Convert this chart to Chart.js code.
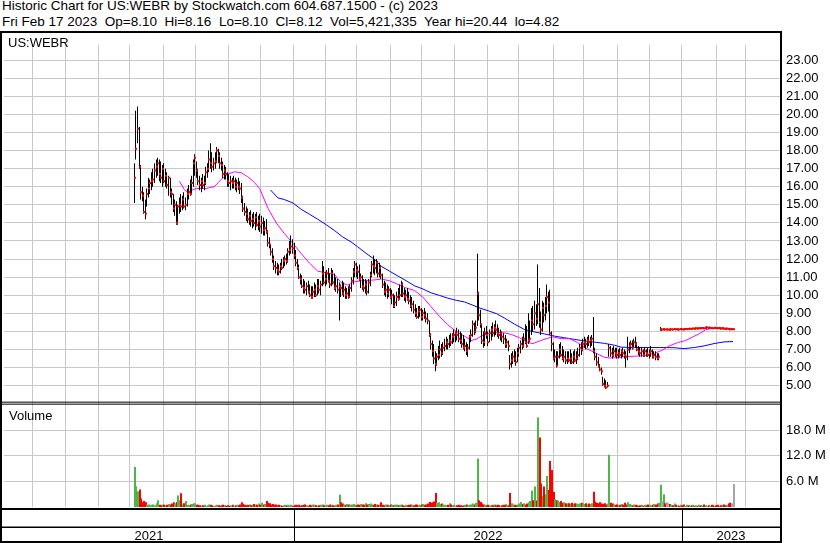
<!DOCTYPE html>
<html>
<head>
<meta charset="utf-8">
<script src="https://cdn.jsdelivr.net/npm/chart.js@4"></script>
<style>
  body { margin: 0; background: #fff; width: 830px; height: 543px; overflow: hidden; position: relative;
         font-family: "Liberation Sans", Arial, sans-serif; }
  .hdr { position: absolute; left: 2px; font-size: 13.5px; line-height: 16px; white-space: pre; color: #000; }
  #wrap { position: absolute; left: 0; top: 31px; width: 830px; height: 512px; }
</style>
</head>
<body>
<div class="hdr" style="top:-1.7px">Historic Chart for US:WEBR by Stockwatch.com 604.687.1500 - (c) 2023</div>
<div class="hdr" style="top:14px">Fri Feb 17 2023  Op=8.10  Hi=8.16  Lo=8.10  Cl=8.12  Vol=5,421,335  Year hi=20.44  lo=4.82</div>
<div id="wrap"><canvas id="chart" width="830" height="512"></canvas></div>
<script>
// one bar per trading day, day 0 = 5 Aug 2021
const hi = [
  17.3,20.2,20.44,19.3,17.2,16.0,15.7,15.3,15.9,16.5,
  16.4,16.8,17.0,17.3,17.5,17.6,17.5,17.4,17.2,17.3,
  17.0,16.8,16.6,16.5,15.9,15.6,15.3,15.2,15.0,15.4,
  15.6,15.5,15.7,15.4,15.9,16.1,16.4,16.6,17.5,17.8,
  17.4,17.0,16.6,16.5,16.7,16.6,17.1,17.3,18.0,18.4,
  17.9,17.6,17.9,18.2,18.1,17.9,17.6,17.4,17.2,17.1,
  16.8,16.7,16.6,16.5,16.6,16.5,16.4,16.5,16.3,16.2,
  15.5,15.1,14.9,14.8,14.6,14.7,14.5,14.6,14.5,14.6,
  14.4,14.5,14.4,14.3,14.1,14.2,13.6,13.2,12.8,12.6,
  12.2,11.9,11.8,11.7,11.8,12.0,12.1,12.2,12.3,12.6,
  13.0,13.3,13.1,12.9,12.5,12.0,11.7,11.2,11.1,10.9,
  10.8,10.7,10.8,10.6,10.5,10.5,10.7,10.6,10.9,10.9,
  10.8,11.9,11.6,11.3,11.4,11.5,11.2,11.5,11.4,11.2,
  11.0,10.9,10.7,10.6,10.8,10.7,10.5,10.4,10.5,10.6,
  11.0,11.5,11.9,11.8,11.6,11.7,11.2,11.1,10.9,10.9,
  10.8,10.9,11.3,11.9,12.2,12.0,12.0,11.9,11.8,11.6,
  11.2,10.8,10.7,10.6,10.5,10.4,10.3,10.1,10.0,10.2,
  10.4,10.6,10.8,10.7,10.4,10.3,10.4,10.2,10.0,9.9,
  9.7,9.5,9.3,9.4,9.4,9.3,9.2,9.3,9.1,9.0,
  8.6,7.9,7.5,7.3,6.9,6.8,7.2,7.5,7.3,7.4,
  7.6,7.7,7.6,7.8,7.9,7.9,8.1,8.0,8.2,8.1,
  8.0,7.9,7.8,7.6,7.4,7.3,7.8,8.1,8.6,8.5,
  8.6,12.3,10.2,9.2,8.4,8.0,8.2,8.3,8.0,8.1,
  8.3,8.5,8.4,8.6,8.4,8.2,8.1,8.0,7.9,7.8,
  7.6,7.5,6.7,6.8,6.9,7.0,6.9,7.1,7.3,7.5,
  7.7,7.9,8.4,8.3,9.0,8.6,9.3,9.4,9.7,9.5,
  11.7,10.4,9.1,9.7,9.6,9.9,10.6,10.2,10.3,8.0,
  7.4,7.0,6.9,6.9,7.3,7.4,7.2,7.0,6.9,6.9,
  6.9,7.0,6.8,6.9,7.0,6.9,7.1,7.3,7.4,7.6,
  7.7,7.6,7.7,7.8,7.7,7.8,8.8,7.1,6.8,6.6,
  6.2,6.0,5.5,5.4,5.3,5.2,7.3,7.2,7.1,7.2,
  7.1,7.1,7.0,7.1,7.0,7.1,7.0,6.9,7.7,7.4,
  7.5,7.5,7.6,7.7,7.4,7.2,7.1,7.1,7.0,7.1,
  7.0,7.1,7.0,7.2,7.0,6.9,6.9,6.8,6.8,
  8.24,8.16,8.17,8.16,8.15,8.16,8.15,8.17,8.16,8.18,
  8.17,8.16,8.16,8.18,8.17,8.16,8.18,8.19,8.18,8.20,
  8.19,8.21,8.20,8.22,8.21,8.23,8.22,8.24,8.23,8.26,
  8.28,8.25,8.26,8.24,8.23,8.25,8.24,8.22,8.23,8.21,
  8.22,8.20,8.19,8.20,8.18,8.17,8.17,8.16
];
const lo = [
  15.1,17.5,18.4,17.0,15.3,15.2,14.5,14.2,14.9,15.4,
  15.6,15.8,16.0,16.2,16.5,16.6,16.3,16.2,16.0,16.2,
  16.0,15.9,15.5,15.4,15.0,14.6,14.4,13.9,13.9,14.5,
  14.6,14.7,14.8,14.7,14.9,15.3,15.5,15.6,16.0,16.6,
  16.5,16.1,15.8,15.7,15.9,15.8,16.1,16.5,16.8,17.0,
  16.8,16.9,17.0,17.3,17.3,17.0,16.9,16.5,16.4,16.4,
  16.0,16.0,15.8,15.9,15.9,15.8,15.7,15.8,15.6,15.1,
  14.6,14.4,14.1,14.0,13.9,13.8,13.7,13.8,13.6,13.8,
  13.6,13.5,13.4,13.3,13.3,13.4,12.7,12.6,12.2,11.8,
  11.4,11.2,11.1,11.1,11.2,11.4,11.5,11.6,11.7,11.8,
  12.2,12.3,12.3,12.0,11.6,11.4,10.9,10.6,10.4,10.1,
  10.1,10.0,10.1,9.9,9.8,9.8,9.9,9.9,10.0,10.1,
  10.0,10.5,10.6,10.5,10.6,10.7,10.4,10.5,10.6,10.3,
  10.2,10.1,8.6,9.9,10.0,9.9,9.8,9.8,9.8,9.9,
  10.2,10.6,11.0,11.0,10.9,10.8,10.4,10.3,10.2,10.1,
  10.0,10.1,10.5,11.0,11.2,11.1,11.2,11.0,11.0,10.9,
  10.4,10.0,9.9,9.8,9.9,9.8,9.5,9.3,9.3,9.4,
  9.7,9.8,9.9,9.9,9.7,9.6,9.7,9.5,9.3,9.1,
  9.0,8.8,8.7,8.7,8.8,8.6,8.6,8.7,8.5,8.4,
  7.7,7.0,6.6,6.2,5.8,6.1,6.4,6.5,6.6,6.7,
  6.9,7.0,7.0,7.1,7.2,7.3,7.4,7.4,7.5,7.4,
  7.3,7.1,7.0,6.9,6.7,6.6,7.0,7.4,7.7,7.8,
  7.9,8.3,8.6,8.2,7.3,7.1,7.2,7.6,7.2,7.4,
  7.5,7.7,7.7,7.8,7.7,7.6,7.5,7.4,7.3,7.1,
  7.1,6.9,5.9,6.0,6.2,6.3,6.1,6.3,6.6,6.8,
  7.0,7.1,7.3,7.1,7.3,7.4,7.8,8.0,8.1,8.3,
  8.4,8.2,7.8,8.0,8.5,8.6,9.0,9.1,7.8,6.9,
  6.4,6.3,6.0,6.1,6.5,6.6,6.4,6.3,6.2,6.2,
  6.3,6.2,6.2,6.2,6.3,6.2,6.4,6.6,6.7,6.9,
  7.1,7.0,7.1,7.2,7.1,7.2,6.8,6.4,6.1,6.0,
  5.8,5.6,5.0,4.9,4.82,4.9,6.6,6.6,6.5,6.6,
  6.6,6.5,6.5,6.6,6.5,6.6,6.5,6.0,6.4,6.8,
  7.0,7.0,7.1,7.1,6.9,6.7,6.6,6.6,6.6,6.6,
  6.6,6.6,6.5,6.6,6.5,6.5,6.4,6.4,6.4,
  8.04,8.06,8.07,8.06,8.07,8.06,8.05,8.07,8.06,8.08,
  8.07,8.07,8.06,8.08,8.07,8.06,8.08,8.09,8.08,8.10,
  8.09,8.11,8.10,8.12,8.11,8.13,8.12,8.14,8.13,8.15,
  8.16,8.15,8.16,8.14,8.13,8.15,8.14,8.12,8.13,8.11,
  8.12,8.10,8.09,8.10,8.08,8.07,8.08,8.10
];
const cl = [
  16.5,18.1,19.2,17.1,15.7,15.5,14.6,14.5,15.6,15.9,
  16.2,16.3,16.4,16.9,17.1,17.3,16.7,16.5,17.0,16.3,
  16.6,16.1,16.5,15.7,15.6,14.8,15.0,14.0,14.9,15.0,
  14.9,15.3,14.9,15.0,15.6,15.7,15.6,16.2,17.3,17.6,
  16.9,16.3,16.1,16.3,16.1,16.2,16.8,17.0,17.5,17.3,
  17.1,17.3,17.4,18.0,17.7,17.3,17.2,16.7,16.9,16.7,
  16.3,16.2,16.3,16.2,16.3,16.0,16.2,16.0,15.9,15.4,
  14.8,14.6,14.5,14.2,14.4,14.1,14.2,14.0,14.3,13.9,
  14.1,13.8,14.0,13.6,13.7,13.5,12.9,12.8,12.4,12.0,
  11.6,11.5,11.4,11.3,11.6,11.5,11.9,12.0,11.9,12.4,
  12.5,12.7,12.6,12.2,11.8,11.5,11.0,10.9,10.5,10.4,
  10.3,10.5,10.2,10.0,9.9,10.2,10.3,10.0,10.5,10.3,
  10.6,11.2,10.7,10.9,11.2,10.8,10.6,11.2,10.7,10.4,
  10.5,10.3,10.5,10.4,10.1,10.3,10.0,10.1,9.9,10.4,
  10.8,11.3,11.7,11.4,11.3,10.9,11.0,10.5,10.4,10.6,
  10.2,10.7,11.1,11.7,11.6,11.5,11.8,11.2,11.5,11.1,
  10.6,10.2,10.3,10.1,10.3,9.9,10.0,9.4,9.6,9.9,
  9.8,10.0,10.6,10.1,9.9,10.0,9.8,9.7,9.4,9.5,
  9.2,9.0,8.8,9.1,9.2,8.8,9.0,8.9,8.7,8.6,
  7.8,7.3,6.9,6.5,6.2,6.6,6.7,7.0,6.8,7.1,
  7.2,7.4,7.3,7.5,7.4,7.7,7.8,7.9,7.8,7.6,
  7.5,7.3,7.1,7.2,6.9,7.1,7.7,7.8,8.4,8.0,
  8.2,10.1,8.9,8.4,7.5,7.4,7.9,7.8,7.4,7.9,
  8.1,7.9,8.2,8.1,7.9,7.8,7.9,7.7,7.6,7.3,
  7.4,7.2,6.2,6.4,6.6,6.5,6.3,6.8,7.1,7.3,
  7.2,7.6,7.4,7.2,7.5,7.6,8.6,8.4,9.0,8.7,
  9.5,8.5,8.1,9.3,8.9,9.4,9.9,9.6,7.9,7.3,
  6.5,6.6,6.1,6.6,7.0,6.7,6.5,6.6,6.4,6.5,
  6.4,6.5,6.3,6.6,6.4,6.5,6.7,7.1,7.0,7.3,
  7.4,7.3,7.5,7.4,7.5,7.6,6.9,6.6,6.3,6.1,
  5.9,5.8,5.1,5.0,4.9,5.0,7.1,6.8,6.7,6.9,
  6.8,6.7,6.8,6.7,6.9,6.8,6.7,6.6,7.0,7.2,
  7.3,7.1,7.4,7.3,7.0,6.9,6.8,6.9,6.7,6.9,
  6.8,6.7,6.8,6.9,6.6,6.7,6.6,6.5,6.6,
  8.10,8.10,8.12,8.11,8.11,8.11,8.10,8.12,8.11,8.13,
  8.12,8.12,8.11,8.13,8.12,8.11,8.13,8.14,8.13,8.15,
  8.14,8.16,8.15,8.17,8.16,8.18,8.17,8.19,8.18,8.20,
  8.22,8.20,8.21,8.19,8.18,8.20,8.19,8.17,8.18,8.16,
  8.17,8.15,8.14,8.15,8.13,8.12,8.12,8.12
];
// volume in millions of shares
const vol = [
  9.4,4.9,3.7,4.1,2.0,1.1,1.4,1.1,0.5,0.6,
  0.4,0.5,0.6,0.4,0.9,1.6,0.5,0.4,0.6,0.5,
  0.4,0.5,0.7,0.6,0.8,1.1,0.9,1.2,2.7,1.6,
  3.2,0.6,0.9,1.4,0.5,0.4,0.6,0.7,0.9,0.8,
  0.5,0.5,0.4,0.3,0.4,0.5,0.3,0.4,0.6,0.5,
  0.4,0.3,0.4,0.5,0.4,0.3,0.4,0.5,0.4,0.3,
  0.4,0.3,0.4,0.5,0.3,0.4,0.5,0.4,0.6,1.1,
  0.7,0.5,0.4,0.5,0.6,0.4,0.5,0.7,0.6,0.5,
  0.8,0.5,1.0,0.6,0.7,1.4,1.0,0.9,0.6,0.7,
  0.5,0.6,0.4,0.5,0.4,0.3,0.4,0.5,0.4,0.5,
  0.4,0.5,0.3,0.4,0.5,0.4,0.5,0.3,0.4,0.5,
  0.6,0.4,0.3,0.5,0.4,0.6,0.5,0.4,0.3,0.4,
  0.5,0.6,0.4,0.3,0.5,0.4,0.6,0.5,0.4,0.3,
  0.5,0.6,2.9,1.1,0.8,0.6,0.5,0.7,0.6,0.5,
  0.6,0.7,0.5,0.4,0.6,0.5,0.7,0.6,0.5,0.9,
  0.6,0.7,0.8,0.6,0.5,0.7,0.6,0.5,0.6,1.1,
  0.5,0.4,0.6,0.5,0.4,0.6,0.5,0.4,0.5,0.6,
  0.4,0.5,0.6,0.4,0.3,0.5,0.4,0.5,0.6,0.5,
  0.4,0.6,0.5,0.4,0.5,0.6,0.7,0.5,0.6,0.8,
  1.2,1.0,1.1,1.3,3.3,1.0,1.1,0.7,0.8,0.6,
  0.5,0.4,0.5,0.9,0.6,0.4,0.5,0.3,0.4,0.5,
  0.4,0.3,0.4,0.5,0.6,0.4,0.5,0.6,0.8,0.6,
  1.0,11.4,1.6,1.2,0.8,0.6,0.5,0.4,0.5,0.4,
  0.5,0.4,0.6,0.4,0.5,0.4,0.3,0.4,0.5,0.6,
  0.5,0.4,3.3,0.9,0.6,0.5,0.4,0.6,0.8,1.2,
  0.7,0.9,0.6,0.8,1.1,1.4,3.8,1.6,4.8,1.5,
  21.0,16.3,5.5,2.6,4.8,3.0,7.3,4.0,10.8,8.7,
  3.5,1.8,1.6,1.5,1.2,1.4,1.0,1.1,0.9,0.8,
  0.9,0.8,1.0,0.7,0.9,0.8,0.7,0.9,1.0,0.8,
  0.7,0.9,0.6,0.8,0.7,0.9,3.6,1.3,1.0,0.9,
  1.1,0.8,0.7,0.9,0.6,0.8,12.3,1.0,0.8,0.6,
  0.5,0.6,0.4,0.5,0.7,0.5,1.0,0.6,1.1,0.7,
  0.5,0.4,0.6,0.5,0.4,0.3,0.4,0.5,0.3,0.5,
  0.4,0.6,0.5,0.4,0.5,0.7,0.6,0.8,1.0,5.2,
  1.4,3.0,0.9,1.1,0.9,0.7,0.5,0.4,0.8,0.5,
  0.4,0.3,0.5,0.4,0.6,0.3,0.5,0.4,0.3,0.4,
  0.5,0.3,0.4,0.3,0.5,0.4,0.3,0.6,0.4,0.3,
  0.4,0.3,0.5,0.4,0.3,0.4,0.5,0.3,0.4,0.5,
  0.6,0.4,0.5,0.8,1.0,0.9,5.42
];
// moving averages: [trading day, value]
const fastDays = [29.1,32.3,34.5,37.7,39.9,46.3,48.4,51.6,55.9,60.2,64.5,68.8,73.1,76.7,80.8,86.2,91.5,96.8,102.3,107.6,
  112.9,118.3,123.7,129,133.3,137.6,141.9,146.2,155.2,159.2,164.6,170,175.3,180.7,186,191.4,196.8,202.1,207.5,212.9,
  217.1,220.3,223.5,227.8,233.6,238.8,243.1,248.4,253.8,257,261.3,265.6,269.8,275.2,280.6,285.9,290.2,294.5,298.8,303.1,
  306.3,312.1,316,322.4,328.8,335.3,340.6,344.9,350.2,355.6,359.9,364.2,368.5,373.8,380.2,386];
const fastVals = [16.3,15.83,15.7,15.83,15.9,15.9,15.95,16.0,16.4,16.7,16.82,16.78,16.55,16.3,15.9,14.8,14.0,13.4,12.86,12.3,
  11.78,11.33,11.24,11.15,10.7,10.56,10.74,10.8,10.85,10.9,10.8,10.6,10.4,10.26,9.9,9.36,8.82,8.37,8.0,7.74,
  7.5,7.56,7.74,7.87,7.95,7.92,7.83,7.65,7.38,7.33,7.47,7.6,7.7,7.6,7.6,7.38,7.11,6.93,6.75,6.57,
  6.53,6.55,6.61,6.63,6.66,6.79,6.97,7.2,7.38,7.5,7.69,7.87,8.1,8.19,8.19,8.16];
const slowDays = [87.8,92.6,96.8,102.3,107.6,112.9,118.3,123.7,129,134.4,139.7,144,149.4,155.2,159.2,164.6,170,175.3,180.7,186,
  191.4,196.8,202.1,207.5,212.9,218.2,223.5,228.9,233.6,238.8,245.2,251.7,258.1,264.5,270.9,277.4,283.8,290.2,296.6,303.1,
  309.5,313.8,322.4,330.9,339.5,348.1,354.5,361,367.4,373.8,380.2,386];
const slowVals = [15.82,15.38,15.29,15.1,14.75,14.48,14.2,13.9,13.58,13.22,12.95,12.68,12.32,11.96,11.6,11.33,11.06,10.8,10.52,10.35,
  10.13,9.99,9.84,9.72,9.63,9.45,9.27,9.12,8.98,8.73,8.4,8.1,7.97,7.86,7.74,7.65,7.56,7.47,7.41,7.34,
  7.24,7.13,7.11,7.11,7.11,7.1,7.05,7.11,7.2,7.33,7.42,7.44];

// month grid lines and year row, in trading days
const monthLines = [-65.6,-44.6,-23.2,-3.2,18.6,39.6,60.5,81.4,102.9,123,143,165,185.4,206.2,227.7,247.6,270.1,289.8,311.3,332.2,353.1,375.2,393.8];
const years = ['2021', '2022', '2023'];
const yearBreaks = [102.9, 353.1];
const priceTicks = [5,6,7,8,9,10,11,12,13,14,15,16,17,18,19,20,21,22,23];
const volTicks = [6, 12, 18];

const days = cl.map((c, i) => i);
const volColors = days.map(i => {
  if (i === 0 || cl[i] > cl[i - 1]) return '#4cb748';
  if (cl[i] < cl[i - 1]) return '#ff0000';
  return '#a6a6a6';
});

Chart.defaults.font.family = '"Liberation Sans", Arial, sans-serif';
Chart.defaults.color = '#000';

// snap the thin bars to whole pixels so they stay crisp
const crisp = {
  id: 'crisp',
  afterDatasetsUpdate(chart) {
    chart.getDatasetMeta(0).data.forEach(el => { el.x = Math.floor(el.x) + 1; });
    chart.getDatasetMeta(1).data.forEach(el => { el.x = Math.floor(el.x) + 0.5; el.width = 1; });
    chart.getDatasetMeta(4).data.forEach(el => { el.x = Math.floor(el.x) + 1; el.width = 2; });
  }
};

const frame = {
  id: 'frame',
  afterDraw(chart) {
    const ctx = chart.ctx;
    const x = chart.scales.x;
    const sep = chart.scales.yV.top;
    ctx.save();
    ctx.fillStyle = '#000';
    ctx.fillRect(0, 0, 782, 2);        // rule under header
    ctx.fillRect(0, 0, 2, 512);        // left edge
    ctx.fillRect(780, 0, 2, 512);      // right edge
    ctx.fillRect(2, sep - 1.5, 778, 1);  // panel separator
    ctx.fillRect(2, sep + 0.5, 778, 1);
    ctx.fillRect(0, 477, 782, 2);      // under volume
    ctx.fillRect(0, 495.5, 782, 1.5);
    ctx.fillRect(0, 510, 782, 2);
    const edges = [x.left].concat(yearBreaks.map(v => x.getPixelForValue(v)), [x.right]);
    yearBreaks.forEach(v => {
      const px = Math.round(x.getPixelForValue(v));
      ctx.fillRect(px, 479, 1, 31);
    });
    ctx.font = '13px "Liberation Sans", Arial, sans-serif';
    ctx.textAlign = 'center';
    ctx.textBaseline = 'alphabetic';
    years.forEach((y, k) => ctx.fillText(y, (edges[k] + edges[k + 1]) / 2, 508.5));
    ctx.textAlign = 'left';
    ctx.fillText('US:WEBR', 8, 15.7);
    ctx.fillText('Volume', 9, sep + 17);
    ctx.restore();
  }
};

new Chart(document.getElementById('chart'), {
  type: 'bar',
  data: {
    datasets: [
      {
        type: 'scatter', label: 'Close', yAxisID: 'yP', order: 0,
        data: days.map(i => ({ x: i, y: cl[i] })),
        pointStyle: 'rect', pointRadius: 1.42, pointBackgroundColor: '#ff0000', pointBorderWidth: 0
      },
      {
        type: 'bar', label: 'Range', yAxisID: 'yP', order: 1, grouped: false,
        data: days.map(i => ({ x: i, y: [lo[i], hi[i]] })),
        backgroundColor: '#000', maxBarThickness: 1, borderWidth: 0, inflateAmount: 0
      },
      {
        type: 'line', label: 'MA short', yAxisID: 'yP', order: 2,
        data: fastDays.map((d, k) => ({ x: d, y: fastVals[k] })),
        borderColor: '#ff00ff', borderWidth: 1, pointRadius: 0, tension: 0
      },
      {
        type: 'line', label: 'MA long', yAxisID: 'yP', order: 2,
        data: slowDays.map((d, k) => ({ x: d, y: slowVals[k] })),
        borderColor: '#0000ff', borderWidth: 1, pointRadius: 0, tension: 0
      },
      {
        type: 'bar', label: 'Volume', yAxisID: 'yV', order: 3, grouped: false,
        data: days.map(i => ({ x: i, y: vol[i] })),
        backgroundColor: volColors, barPercentage: 1, categoryPercentage: 1, borderWidth: 0, inflateAmount: 0
      }
    ]
  },
  options: {
    responsive: false,
    animation: false,
    devicePixelRatio: 1,
    layout: { padding: { left: 2, top: 2, right: 0, bottom: 0 } },
    plugins: { legend: { display: false }, tooltip: { enabled: false } },
    scales: {
      x: {
        type: 'linear', min: -84.05, max: 416.3, offset: false,
        afterBuildTicks: s => { s.ticks = monthLines.map(v => ({ value: v })); },
        afterFit: s => { s.height = 36; },
        ticks: { display: false },
        grid: { color: '#c8c8c8', drawTicks: false, offset: false },
        border: { display: false }
      },
      yP: {
        type: 'linear', position: 'right', stack: 'main', stackWeight: 367.5,
        min: 4.035, max: 23.846,
        afterBuildTicks: s => { s.ticks = priceTicks.map(v => ({ value: v })); },
        afterFit: s => { s.width = 50; },
        ticks: { callback: v => v.toFixed(2), padding: 6, autoSkip: false, font: { size: 13 }, color: '#000' },
        grid: { color: '#c8c8c8', drawTicks: false },
        border: { display: false }
      },
      yV: {
        type: 'linear', position: 'right', stack: 'main', stackWeight: 106.5,
        min: 0, max: 24.39,
        afterBuildTicks: s => { s.ticks = volTicks.map(v => ({ value: v })); },
        afterFit: s => { s.width = 50; },
        ticks: { callback: v => v.toFixed(1) + ' M', padding: 6, autoSkip: false, font: { size: 13 }, color: '#000' },
        grid: { color: '#c8c8c8', drawTicks: false },
        border: { display: false }
      }
    }
  },
  plugins: [crisp, frame]
});
</script>
</body>
</html>
